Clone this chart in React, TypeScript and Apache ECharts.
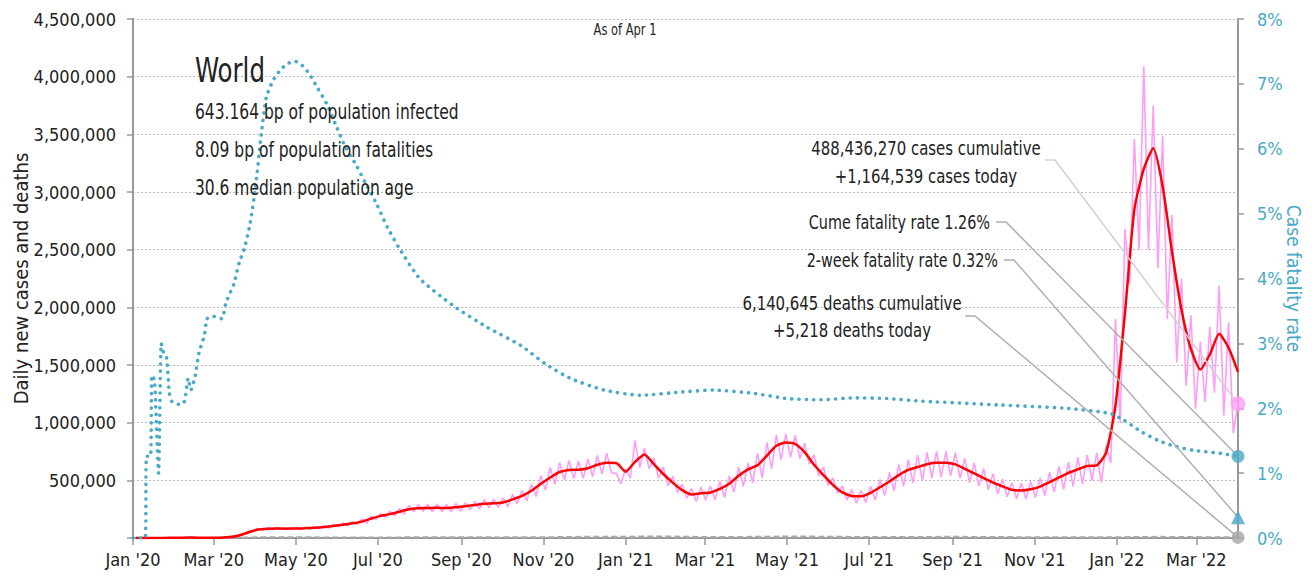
import React, { useEffect, useRef } from "react";
import * as echarts from "echarts";

// x values are days counted from 2020-01-01
const xTickDays = [0, 60, 121, 182, 244, 305, 366, 425, 486, 547, 609, 670, 731, 790];
const xTickLabels = ["Jan '20", "Mar '20", "May '20", "Jul '20", "Sep '20", "Nov '20", "Jan '21", "Mar '21", "May '21", "Jul '21", "Sep '21", "Nov '21", "Jan '22", "Mar '22"];
const lastDay = 821; // Apr 1 2022

// 7-day average of new cases (thousands), weekly from day 2 (Jan 3 2020)
const avgStartDay = 2;
const avgStepDays = 7;
const avgCasesK = [
  0.01, 0.02, 0.1,
  0.6, 2, 3, 4, 2, 1.5, 2.5, 8, 22, 50,
  73, 80, 82, 81, 82, 85, 88, 95, 105, 115,
  127, 142, 168, 192, 207, 228, 250, 258, 260, 262,
  260, 266, 276, 286, 296, 301, 308, 335, 365, 410,
  470, 525, 572, 590, 592, 605, 635, 652, 650, 575,
  660, 725, 640, 555, 480, 415, 378, 388, 395, 425,
  470, 540, 595, 630, 715, 800, 828, 815, 745, 635,
  545, 460, 395, 365, 362, 392, 440, 490, 545, 590,
  615, 640, 652, 652, 638, 600, 560, 520, 480, 448,
  418, 412, 422, 445, 485, 525, 565, 595, 625, 630,
  740, 1150, 1950, 2850, 3200, 3380, 3050, 2480, 1980, 1640,
  1460, 1590, 1770, 1650, 1440,
];

// daily new cases (thousands), every 3.5 days from day 2: weekly high then low
const dailyStartDay = 2;
const dailyStepDays = 3.5;
const dailyCasesK = [
  0.01, 0.01, 0.02, 0.02, 0.1, 0.2,
  0.6, 1.2, 2.0, 2.8, 3.2, 2.8, 6.0, 2.2, 1.0, 1.0,
  1.8, 2.2, 3.5, 4.5, 11, 14, 30, 35, 62, 66,
  82, 70, 88, 72, 92, 74, 90, 74, 92, 74,
  94, 76, 98, 80, 106, 86, 120, 96, 130, 104,
  142, 116, 165, 128, 190, 160, 212, 178, 232, 192,
  255, 208, 282, 228, 290, 232, 292, 228, 296, 230,
  292, 226, 300, 234, 306, 244, 318, 252, 332, 262,
  336, 266, 346, 272, 378, 296, 412, 322, 468, 360,
  540, 415, 612, 465, 655, 505, 672, 515, 668, 518,
  685, 530, 715, 555, 735, 565, 560, 470, 600, 520,
  845, 610, 780, 600, 695, 520, 615, 455, 535, 395,
  465, 345, 428, 318, 440, 328, 448, 332, 490, 352,
  540, 398, 615, 448, 650, 478, 735, 520, 828, 600,
  895, 680, 905, 700, 890, 688, 822, 640, 720, 540,
  615, 458, 520, 388, 452, 330, 420, 302, 412, 308,
  448, 328, 508, 368, 568, 408, 638, 448, 680, 478,
  718, 498, 742, 518, 752, 528, 752, 536, 740, 518,
  692, 478, 650, 450, 600, 418, 558, 380, 512, 358,
  480, 340, 476, 338, 490, 350, 520, 368, 570, 398,
  620, 420, 660, 448, 700, 468, 720, 498, 740, 480,
  800, 650, 1900, 1000, 2680, 2200, 3460, 2500, 4090, 2500,
  3750, 2340, 3490, 1900, 2800, 1520, 2250, 1320, 1930, 1120,
  1700, 1180, 1830, 1260, 2190, 1060, 1870, 910, 1165,
];

// 7-day average deaths (thousands)
const deathDays = [21, 60, 91, 121, 152, 182, 213, 244, 274, 305, 335, 366, 397, 425, 456, 486, 517, 547, 578, 609, 639, 670, 700, 731, 762, 790, 821];
const deathsK = [0.03, 0.05, 5.5, 6.5, 4.5, 4.8, 5.8, 5.8, 5.4, 6.5, 10, 11.5, 13, 9, 9.5, 13, 11.5, 8, 8.7, 10.3, 8.2, 7, 7.4, 6.6, 10, 7.8, 5.2];

// case fatality rate (%)
const cfrDays = [0, 9, 10, 13, 14, 16, 19, 21, 23, 25, 27, 29, 34, 38, 41, 43, 46, 49, 53, 55, 59, 66, 69, 75, 79, 83, 87, 91, 95, 99, 104, 109, 114, 120, 126, 131, 137, 144, 151, 158, 166, 173, 181, 189, 198, 213, 238, 263, 288, 306, 325, 350, 377, 407, 431, 461, 486, 511, 535, 560, 585, 595, 644, 693, 726, 736, 749, 761, 773, 788, 806, 821];
const cfrPct = [0, 0, 1.26, 1.26, 2.51, 2.43, 1.0, 3.0, 2.83, 2.78, 2.23, 2.10, 2.06, 2.09, 2.46, 2.28, 2.48, 2.85, 3.12, 3.38, 3.42, 3.38, 3.62, 3.92, 4.25, 4.48, 4.85, 5.40, 6.17, 6.79, 7.05, 7.20, 7.30, 7.35, 7.28, 7.15, 6.94, 6.69, 6.35, 6.02, 5.74, 5.46, 5.15, 4.79, 4.46, 4.0, 3.58, 3.25, 2.97, 2.69, 2.46, 2.28, 2.2, 2.25, 2.28, 2.23, 2.15, 2.13, 2.16, 2.15, 2.11, 2.10, 2.05, 2.0, 1.92, 1.82, 1.64, 1.51, 1.42, 1.35, 1.31, 1.26];

// latest values
const casesCumulative = 488436270;
const casesToday = 1164539;
const deathsCumulative = 6140645;
const deathsToday = 5218;
const cumeFatalityRate = 1.26;
const twoWeekFatalityRate = 0.32;

const infoLines = ["643.164 bp of population infected", "8.09 bp of population fatalities", "30.6 median population age"];

const FONT = "'DejaVu Sans Condensed', 'Liberation Sans Narrow', sans-serif";
const TEAL = "#4aa9c6";
const PINK = "#ff9df6";
const RED = "#ff0000";
const GRAY = "#a8a8a8";

const fmt = (n: number) => Math.round(n).toString().replace(/\B(?=(\d{3})+(?!\d))/g, ",");

export default function App() {
  const ref = useRef<HTMLDivElement>(null);
  useEffect(() => {
    if (!ref.current) return;
    const chart = echarts.init(ref.current, undefined, { renderer: "svg" });
    const avgData = avgCasesK.map((v, i) => [avgStartDay + i * avgStepDays, v * 1000]);
    const dailyData = dailyCasesK.map((v, i) => [dailyStartDay + i * dailyStepDays, v * 1000]);
    const deathData = deathDays.map((d, i) => [d, deathsK[i] * 1000]);
    const cfrData = cfrDays.map((d, i) => [d, cfrPct[i]]);

    chart.setOption({
      animation: false,
      textStyle: { fontFamily: FONT },
      grid: { left: 133, right: 74, top: 19, bottom: 39, containLabel: false, outerBoundsMode: "none" },
      xAxis: {
        type: "value",
        min: 0,
        max: lastDay,
        axisLine: { lineStyle: { color: "#999", width: 2 } },
        axisTick: { show: true, length: 7, customValues: xTickDays, lineStyle: { color: "#999", width: 1.5 } },
        axisLabel: {
          customValues: xTickDays,
          margin: 12,
          fontSize: 18,
          color: "#222",
          fontFamily: FONT,
          formatter: (v: number) => {
            const i = xTickDays.indexOf(Math.round(v));
            return i >= 0 ? xTickLabels[i] : "";
          },
        },
        splitLine: { show: false },
      },
      yAxis: [
        {
          type: "value",
          min: 0,
          max: 4500000,
          interval: 500000,
          name: "Daily new cases and deaths",
          nameLocation: "middle",
          nameGap: 102,
          nameMoveOverlap: false,
          nameTextStyle: { fontSize: 20, color: "#222", fontFamily: FONT },
          axisLine: { show: true, lineStyle: { color: "#999", width: 2 } },
          axisTick: { show: true, length: 6, lineStyle: { color: "#999", width: 1.5 } },
          axisLabel: { fontSize: 18, color: "#222", margin: 17, fontFamily: FONT, formatter: (v: number) => (v === 0 ? "" : fmt(v)) },
          splitLine: { show: true, lineStyle: { color: "#bbb", type: [2, 2], width: 1 } },
        },
        {
          type: "value",
          min: 0,
          max: 8,
          interval: 1,
          position: "right",
          name: "Case fatality rate",
          nameLocation: "middle",
          nameGap: 46,
          nameRotate: -90,
          nameMoveOverlap: false,
          nameTextStyle: { fontSize: 19, color: TEAL, fontFamily: FONT },
          axisLine: { show: true, lineStyle: { color: "#999", width: 2 } },
          axisTick: { show: true, length: 6, lineStyle: { color: "#999", width: 1.5 } },
          axisLabel: { fontSize: 18, color: TEAL, margin: 19, fontFamily: FONT, formatter: (v: number) => v + "%" },
          splitLine: { show: false },
        },
      ],
      series: [
        {
          name: "deaths",
          type: "line",
          data: deathData,
          showSymbol: false,
          lineStyle: { color: GRAY, width: 2, type: [6, 3] },
          z: 1,
        },
        {
          name: "daily cases",
          type: "line",
          data: dailyData,
          showSymbol: false,
          lineStyle: { color: PINK, width: 1.6 },
          z: 2,
        },
        {
          name: "avg cases",
          type: "line",
          data: avgData,
          showSymbol: false,
          smooth: 0.2,
          lineStyle: { color: RED, width: 2.5 },
          z: 3,
        },
        {
          name: "cfr",
          type: "line",
          yAxisIndex: 1,
          data: cfrData,
          showSymbol: false,
          smooth: 0.2,
          lineStyle: { color: TEAL, width: 3.6, type: [0.1, 7.2], cap: "round" },
          z: 4,
        },
        {
          type: "scatter",
          data: [[lastDay, casesToday]],
          symbol: "circle",
          symbolSize: 15,
          itemStyle: { color: PINK },
          clip: false,
          z: 10,
        },
        {
          type: "scatter",
          data: [[lastDay, deathsToday]],
          symbol: "circle",
          symbolSize: 13,
          itemStyle: { color: GRAY },
          clip: false,
          z: 10,
        },
        {
          type: "scatter",
          yAxisIndex: 1,
          data: [[lastDay, cumeFatalityRate]],
          symbol: "circle",
          symbolSize: 13,
          itemStyle: { color: TEAL },
          clip: false,
          z: 10,
        },
        {
          type: "scatter",
          yAxisIndex: 1,
          data: [[lastDay, twoWeekFatalityRate]],
          symbol: "triangle",
          symbolSize: 14,
          itemStyle: { color: TEAL },
          clip: false,
          z: 10,
        },
      ],
    });

    const pCases = chart.convertToPixel({ xAxisIndex: 0, yAxisIndex: 0 }, [lastDay, casesToday]) as number[];
    const pDeaths = chart.convertToPixel({ xAxisIndex: 0, yAxisIndex: 0 }, [lastDay, deathsToday]) as number[];
    const pCume = chart.convertToPixel({ xAxisIndex: 0, yAxisIndex: 1 }, [lastDay, cumeFatalityRate]) as number[];
    const pTwo = chart.convertToPixel({ xAxisIndex: 0, yAxisIndex: 1 }, [lastDay, twoWeekFatalityRate]) as number[];

    const txt = (x: number, y: number, text: string, size: number, align = "left", sx = 0.82, color = "#222", lh = 27) => ({
      type: "text",
      x,
      y,
      scaleX: sx,
      silent: true,
      style: {
        text,
        font: `${size}px ${FONT}`,
        fill: color,
        align,
        textAlign: align,
        verticalAlign: "middle",
        textVerticalAlign: "middle",
        lineHeight: lh,
      },
      z: 20,
    });
    const connector = (x: number, y: number, target: number[], color: string) => ({
      type: "polyline",
      silent: true,
      shape: { points: [[x, y], [x + 10, y], [target[0], target[1]]] },
      style: { stroke: color, lineWidth: 1.5, fill: null },
      z: 5,
    });

    chart.setOption({
      graphic: [
        txt(625, 30, "As of Apr 1", 15, "center", 0.85),
        txt(195, 70, "World", 34, "left", 0.8),
        txt(195, 112, infoLines[0], 21),
        txt(195, 150, infoLines[1], 21),
        txt(195, 188, infoLines[2], 21),
        txt(926, 162, `${fmt(casesCumulative)} cases cumulative\n+${fmt(casesToday)} cases today`, 20, "center", 0.83, "#222", 28),
        connector(1045, 160, pCases, "#d2d2d2"),
        txt(990, 222, `Cume fatality rate ${cumeFatalityRate.toFixed(2)}%`, 20, "right", 0.8),
        connector(996, 222, pCume, "#b0b0b0"),
        txt(998, 260, `2-week fatality rate ${twoWeekFatalityRate.toFixed(2)}%`, 20, "right", 0.8),
        connector(1004, 260, pTwo, "#b0b0b0"),
        txt(852, 316, `${fmt(deathsCumulative)} deaths cumulative\n+${fmt(deathsToday)} deaths today`, 20, "center", 0.83, "#222", 27),
        connector(965, 316, pDeaths, "#b0b0b0"),
      ],
    });

    return () => chart.dispose();
  }, []);
  return <div ref={ref} style={{ position: "absolute", left: 0, top: 0, width: 1312, height: 577 }} />;
}
